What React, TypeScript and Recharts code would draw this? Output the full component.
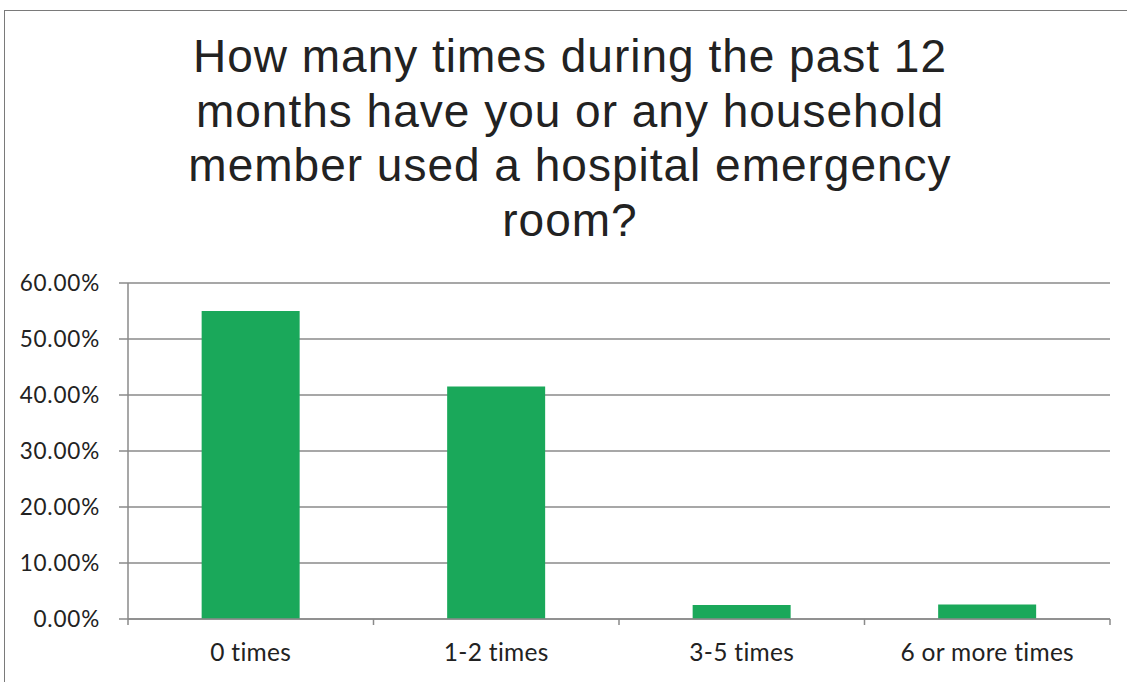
import { BarChart, Bar, XAxis, YAxis, CartesianGrid } from 'recharts';

const categories = ['0 times', '1-2 times', '3-5 times', '6 or more times'];
const shares = [55.0, 41.5, 2.5, 2.6];
const yTicks = [0, 10, 20, 30, 40, 50, 60];

const titleLines = [
  'How many times during the past 12',
  'months have you or any household',
  'member used a hospital emergency',
  'room?',
];

const data = categories.map((name, i) => ({ name, value: shares[i] }));

const AXIS = '#8a8a8a';
const LABEL_FONT = 'Lato, "Open Sans", sans-serif';

function CategoryTick(props: any) {
  const { x, y, payload, index, visibleTicksCount } = props;
  const half = payload.offset;
  const last = index === visibleTicksCount - 1;
  return (
    <g>
      <line x1={x - half} x2={x - half} y1={y} y2={y + 6} stroke={AXIS} strokeWidth={1.5} />
      {last && <line x1={x + half} x2={x + half} y1={y} y2={y + 6} stroke={AXIS} strokeWidth={1.5} />}
      <text
        x={x}
        y={y + 42}
        textAnchor="middle"
        fontFamily={LABEL_FONT}
        fontSize={24.5}
        letterSpacing={0.3}
        fill="#222"
      >
        {payload.value}
      </text>
    </g>
  );
}

export default function App() {
  return (
    <div style={{ position: 'absolute', left: 0, top: 0, width: 1127, height: 682, background: '#fff', overflow: 'hidden' }}>
      <div
        style={{
          position: 'absolute',
          left: 4,
          top: 10,
          width: 1140,
          height: 700,
          border: '1.5px solid #7a7a7a',
          boxSizing: 'border-box',
        }}
      />
      <div
        style={{
          position: 'absolute',
          left: 70,
          top: 29,
          width: 1000,
          textAlign: 'center',
          fontFamily: '"Liberation Sans", Arial, sans-serif',
          fontSize: 46,
          letterSpacing: 1,
          lineHeight: '54.7px',
          color: '#222',
        }}
      >
        {titleLines.map((t) => (
          <div key={t}>{t}</div>
        ))}
      </div>
      <div style={{ position: 'absolute', left: 0, top: 0 }}>
        <BarChart
          width={1127}
          height={682}
          data={data}
          margin={{ top: 283, right: 17, bottom: 23, left: 0 }}
          barCategoryGap="30%"
        >
          <CartesianGrid vertical={false} stroke={AXIS} strokeWidth={1.5} />
          <XAxis
            dataKey="name"
            height={40}
            axisLine={{ stroke: AXIS, strokeWidth: 1.5 }}
            tickLine={false}
            tickSize={0}
            tickMargin={0}
            interval={0}
            tick={<CategoryTick />}
          />
          <YAxis
            width={128}
            domain={[0, 60]}
            ticks={yTicks}
            interval={0}
            tickFormatter={(v) => `${Number(v).toFixed(2)}%`}
            axisLine={{ stroke: AXIS, strokeWidth: 1.5 }}
            tickLine={{ stroke: AXIS, strokeWidth: 1.5 }}
            tickSize={9}
            tickMargin={19}
            tick={{ fontFamily: LABEL_FONT, fontSize: 22.5, letterSpacing: 0.8, fill: '#222' }}
          />
          <Bar dataKey="value" fill="#1aa85a" isAnimationActive={false} />
        </BarChart>
      </div>
    </div>
  );
}
